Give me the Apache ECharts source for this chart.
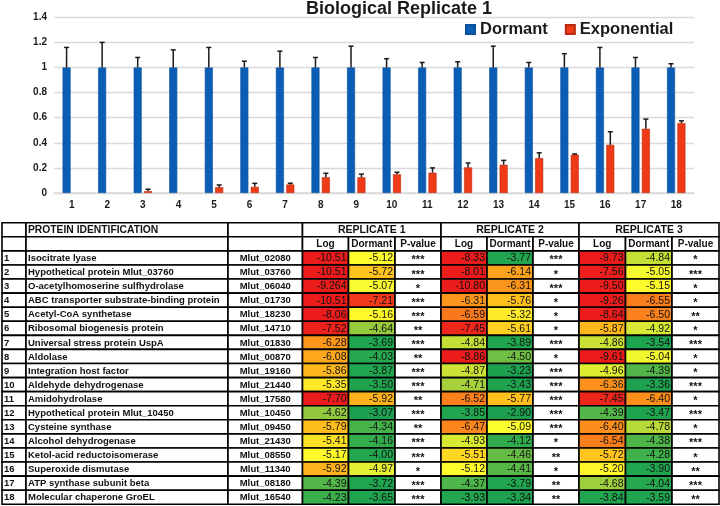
<!DOCTYPE html>
<html><head><meta charset="utf-8">
<script src="https://cdn.jsdelivr.net/npm/echarts@6/dist/echarts.min.js"></script>
<style>html,body{margin:0;padding:0;background:#fff}#c{width:720px;height:506px}</style>
</head><body><div id="c"></div>
<script>
// ---------- chart data ----------
const categories = ['1','2','3','4','5','6','7','8','9','10','11','12','13','14','15','16','17','18'];
const dormant = [1,1,1,1,1,1,1,1,1,1,1,1,1,1,1,1,1,1];
const dormantSd = [0.16,0.20,0.08,0.14,0.16,0.05,0.13,0.08,0.17,0.07,0.04,0.045,0.17,0.04,0.11,0.16,0.08,0.03];
const exponential = [0,0,0.015,0,0.046,0.049,0.068,0.125,0.125,0.149,0.162,0.204,0.225,0.278,0.305,0.384,0.512,0.557];
const exponentialSd = [null,null,0.015,null,0.018,0.028,0.01,0.032,0.025,0.016,0.038,0.035,0.035,0.042,0.006,0.104,0.077,0.018];
const yTicks = [0,0.2,0.4,0.6,0.8,1,1.2,1.4];

// ---------- table data ----------
const proteins = ['Isocitrate lyase','Hypothetical protein Mlut_03760','O-acetylhomoserine sulfhydrolase','ABC transporter substrate-binding protein','Acetyl-CoA synthetase','Ribosomal biogenesis protein','Universal stress protein UspA','Aldolase','Integration host factor','Aldehyde dehydrogenase','Amidohydrolase','Hypothetical protein Mlut_10450','Cysteine synthase','Alcohol dehydrogenase','Ketol-acid reductoisomerase','Superoxide dismutase','ATP synthase subunit beta','Molecular chaperone GroEL'];
const ids = ['Mlut_02080','Mlut_03760','Mlut_06040','Mlut_01730','Mlut_18230','Mlut_14710','Mlut_01830','Mlut_00870','Mlut_19160','Mlut_21440','Mlut_17580','Mlut_10450','Mlut_09450','Mlut_21430','Mlut_08550','Mlut_11340','Mlut_08180','Mlut_16540'];
const rep1Log = [-10.51,-10.51,-9.264,-10.51,-8.06,-7.52,-6.28,-6.08,-5.86,-5.35,-7.70,-4.62,-5.79,-5.41,-5.17,-5.92,-4.39,-4.23];
const rep1Dormant = [-5.12,-5.72,-5.07,-7.21,-5.16,-4.64,-3.69,-4.03,-3.87,-3.50,-5.92,-3.07,-4.34,-4.16,-4.00,-4.97,-3.72,-3.65];
const rep1P = ['***','***','*','***','***','**','***','**','***','***','**','***','**','***','***','*','***','***'];
const rep2Log = [-8.33,-8.01,-10.80,-6.31,-6.59,-7.45,-4.84,-8.86,-4.87,-4.71,-6.52,-3.85,-6.47,-4.93,-5.51,-5.12,-4.37,-3.93];
const rep2Dormant = [-3.77,-6.14,-6.31,-5.76,-5.32,-5.61,-3.89,-4.50,-3.23,-3.43,-5.77,-2.90,-5.09,-4.12,-4.46,-4.41,-3.79,-3.34];
const rep2P = ['***','*','***','*','*','*','***','*','***','***','***','***','***','*','**','*','**','**'];
const rep3Log = [-9.73,-7.56,-9.50,-9.26,-8.64,-5.87,-4.86,-9.61,-4.96,-6.36,-7.45,-4.39,-6.40,-6.54,-5.72,-5.20,-4.68,-3.84];
const rep3Dormant = [-4.84,-5.05,-5.15,-6.55,-6.50,-4.92,-3.54,-5.04,-4.39,-3.36,-6.40,-3.47,-4.78,-4.38,-4.28,-3.90,-4.04,-3.59];
const rep3P = ['*','***','*','*','**','*','***','*','*','***','*','***','*','***','*','**','***','**'];
const replicateLabels = ['REPLICATE 1','REPLICATE 2','REPLICATE 3'];
const subHeaders = ['Log','Dormant','P-value'];
const tableHeader = 'PROTEIN IDENTIFICATION';

// ---------- styling / layout ----------
const FONT = '"Liberation Sans", Arial, sans-serif';
const colEdges = [2, 26, 228, 302.5, 348.5, 395, 441, 487, 533, 579, 625.5, 672, 719];
const colorStops = [
  [-7.6,[236,28,28]],[-7.0,[245,72,28]],[-6.4,[252,142,28]],[-5.8,[255,188,28]],
  [-5.25,[255,242,42]],[-5.1,[255,255,46]],[-4.85,[200,224,54]],[-4.6,[140,198,63]],
  [-4.35,[71,179,74]],[-4.0,[34,167,79]],[-2.9,[28,159,79]]
];
function colorFor(v){
  if (v <= colorStops[0][0]) return 'rgb('+colorStops[0][1].join(',')+')';
  for (let i=1;i<colorStops.length;i++){
    if (v <= colorStops[i][0]){
      const a=colorStops[i-1], b=colorStops[i];
      const t=(v-a[0])/(b[0]-a[0]);
      const c=a[1].map((x,j)=>Math.round(x+(b[1][j]-x)*t));
      return 'rgb('+c.join(',')+')';
    }
  }
  return 'rgb('+colorStops[colorStops.length-1][1].join(',')+')';
}
function fmt(v){ const s=String(v); const d=(s.split('.')[1]||'').length; return v.toFixed(Math.max(2,d)); }

const cells = [];
function addCell(c0,c1,r0,r1,text,o){ cells.push(Object.assign({x0:colEdges[c0],x1:colEdges[c1],r0:r0,r1:r1,text:text,fill:'#fff',align:'center',font:'bold 10px '+FONT,dy:0},o||{})); }
// header row 1
addCell(0,1,0,1,'');
addCell(1,2,0,1,tableHeader,{align:'left',font:'bold 10.3px '+FONT});
addCell(2,3,0,1,'');
replicateLabels.forEach((l,k)=>addCell(3+3*k,6+3*k,0,1,l,{font:'bold 10.5px '+FONT}));
// header row 2
addCell(0,1,1,2,''); addCell(1,2,1,2,''); addCell(2,3,1,2,'');
[0,1,2].forEach(k=>subHeaders.forEach((h,j)=>addCell(3+3*k+j,4+3*k+j,1,2,h,{font:'bold 10px '+FONT})));
const reps = [[rep1Log,rep1Dormant,rep1P],[rep2Log,rep2Dormant,rep2P],[rep3Log,rep3Dormant,rep3P]];
for (let i=0;i<18;i++){
  const r=2+i;
  addCell(0,1,r,r+1,String(i+1),{align:'left',font:'bold 9.5px '+FONT});
  addCell(1,2,r,r+1,proteins[i],{align:'left',font:'bold 9.5px '+FONT});
  addCell(2,3,r,r+1,ids[i],{font:'bold 9.5px '+FONT});
  reps.forEach((rp,k)=>{
    addCell(3+3*k,4+3*k,r,r+1,fmt(rp[0][i]),{fill:colorFor(rp[0][i]),align:'right',font:'10.5px '+FONT});
    addCell(4+3*k,5+3*k,r,r+1,fmt(rp[1][i]),{fill:colorFor(rp[1][i]),align:'right',font:'10.5px '+FONT});
    addCell(5+3*k,6+3*k,r,r+1,rp[2][i],{font:'bold 11px '+FONT,dy:2});
  });
}

const BAR_W = 8, BAR_GAP = 2.4;
function errRender(offsetSign){
  return function(params, api){
    const sd = api.value(2);
    if (sd == null || isNaN(sd)) return null;
    const base = api.coord([api.value(0), api.value(1)]);
    const top = api.coord([api.value(0), api.value(1)+sd]);
    const x = base[0] + offsetSign*(BAR_W+BAR_GAP)/2;
    const st = {stroke:'#1a1a1a', lineWidth:1.5};
    return {type:'group', children:[
      {type:'line', shape:{x1:x,y1:base[1],x2:x,y2:top[1]}, style:st},
      {type:'line', shape:{x1:x-2.5,y1:top[1],x2:x+2.5,y2:top[1]}, style:st}
    ]};
  };
}

const chart = echarts.init(document.getElementById('c'), null, {renderer:'canvas'});
chart.setOption({
  animation:false,
  backgroundColor:'#fff',
  title:{text:'Biological Replicate 1', left:306, top:0.5, padding:0,
    textStyle:{fontFamily:FONT, fontWeight:'bold', fontSize:18, color:'#1a1a1a'}},
  legend:{data:['Dormant','Exponential'], left:465, top:21, padding:0, icon:'rect', itemWidth:9, itemHeight:9, itemGap:17,
    textStyle:{fontFamily:FONT, fontWeight:'bold', fontSize:16.5, color:'#1a1a1a'}},
  grid:[
    {left:54, right:26, top:17.3, height:175.7},
    {left:0, right:0, top:222.7, height:281.6}
  ],
  xAxis:[
    {type:'category', gridIndex:0, data:categories, axisTick:{show:false},
      axisLine:{lineStyle:{color:'#d9d9d9', width:1.5}},
      axisLabel:{margin:7, fontFamily:FONT, fontWeight:'bold', fontSize:10, color:'#1a1a1a'}},
    {type:'value', gridIndex:1, min:0, max:720, show:false}
  ],
  yAxis:[
    {type:'value', gridIndex:0, min:yTicks[0], max:yTicks[yTicks.length-1], interval:yTicks[1]-yTicks[0],
      axisLine:{show:false}, axisTick:{show:false},
      splitLine:{lineStyle:{color:'#d9d9d9', width:1.3}},
      axisLabel:{margin:7, fontFamily:FONT, fontWeight:'bold', fontSize:10, color:'#1a1a1a'}},
    {type:'value', gridIndex:1, min:0, max:20, inverse:true, show:false}
  ],
  series:[
    {name:'Dormant', type:'bar', xAxisIndex:0, yAxisIndex:0, data:dormant, barWidth:BAR_W, barGap:(BAR_GAP/BAR_W*100)+'%',
      itemStyle:{color:'#0b5db5', borderColor:'#094f9c', borderWidth:0.6}},
    {name:'Exponential', type:'bar', xAxisIndex:0, yAxisIndex:0, barWidth:BAR_W,
      data:exponential.map(v => v > 0 ? v : {value:v, itemStyle:{borderWidth:0}}),
      itemStyle:{color:'#ee3a16', borderColor:'#b8290f', borderWidth:0.6}},
    {type:'custom', xAxisIndex:0, yAxisIndex:0, silent:true, z:5,
      data:categories.map((c,i)=>[i, dormant[i], dormantSd[i]]),
      encode:{x:0,y:1}, renderItem:errRender(-1)},
    {type:'custom', xAxisIndex:0, yAxisIndex:0, silent:true, z:5,
      data:categories.map((c,i)=>[i, exponential[i], exponentialSd[i]]),
      encode:{x:0,y:1}, renderItem:errRender(1)},
    {type:'custom', xAxisIndex:1, yAxisIndex:1, silent:true, clip:false,
      data:cells.map(c=>[c.x0,c.x1,c.r0,c.r1]),
      encode:{x:[0,1], y:[2,3]},
      renderItem:function(params, api){
        const c = cells[params.dataIndex];
        const p0 = api.coord([api.value(0), api.value(2)]);
        const p1 = api.coord([api.value(1), api.value(3)]);
        const x0=p0[0], y0=p0[1], w=p1[0]-p0[0], h=p1[1]-p0[1];
        const children=[{type:'rect', shape:{x:x0,y:y0,width:w,height:h},
          style:{fill:c.fill, stroke:'#000', lineWidth:1.6}}];
        if (c.text){
          let tx = c.align==='left' ? x0+2 : c.align==='right' ? x0+w-2 : x0+w/2;
          children.push({type:'text', z2:10, style:{x:tx, y:y0+h/2+0.5+c.dy, text:c.text, font:c.font,
            fill:'#111', align:c.align, verticalAlign:'middle'}});
        }
        return {type:'group', children:children};
      }}
  ]
});
</script></body></html>
